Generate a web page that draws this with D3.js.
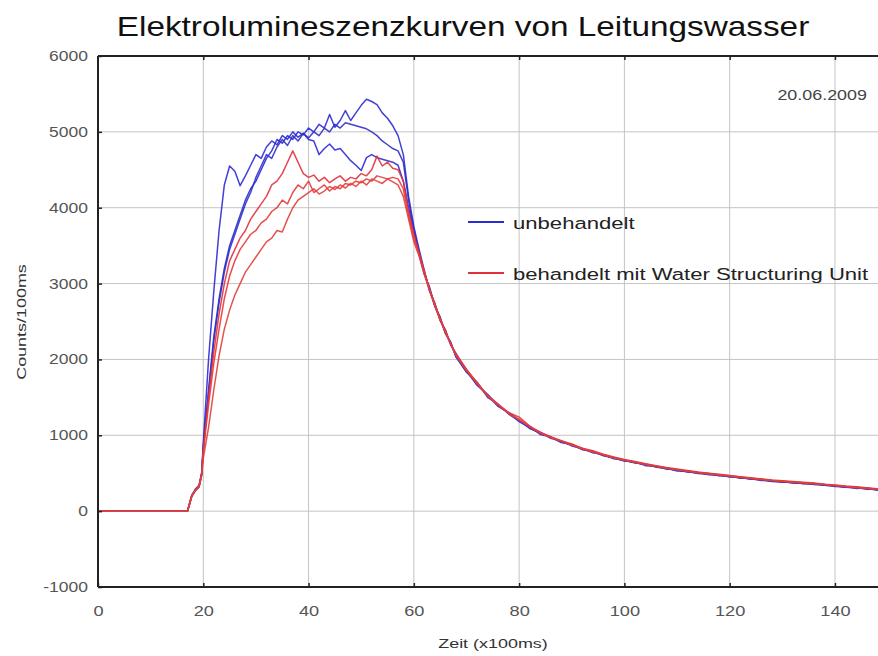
<!DOCTYPE html>
<html lang="de">
<head>
<meta charset="UTF-8">
<title>Elektrolumineszenzkurven</title>
<script src="https://cdn.jsdelivr.net/npm/d3@7"></script>
<style>
  body { margin: 0; background: #fff; }
  text { font-family: "Liberation Sans", Arial, sans-serif; }
</style>
</head>
<body>
<script>
// x values (Zeit in 100ms)
const zeit = [0, 17, 17.8, 18.5, 19.2, 19.7,
  20, 21, 22, 23, 24, 25, 26, 27, 28, 29, 30, 31, 32, 33, 34, 35, 36, 37, 38, 39,
  40, 41, 42, 43, 44, 45, 46, 47, 48, 49, 50, 51, 52, 53, 54, 55, 56, 57, 58, 59, 60,
  61, 62, 63, 64, 65, 66, 67, 68,
  70, 72, 74, 76, 78, 80, 82, 84, 86, 88, 90, 92, 94, 96, 98, 100, 102, 104, 106, 108,
  110, 112, 114, 116, 118, 120, 122, 124, 126, 128, 130, 132, 134, 136, 138, 140, 142, 144, 146, 148, 150];

// unbehandelt (blau)
const blau1 = [0, 0, 210, 280, 330, 500,
  900, 2000, 2900, 3700, 4300, 4550, 4480, 4290, 4420, 4560, 4700, 4650, 4800, 4880, 4830, 4950, 4900, 5000, 4930, 4980,
  4900, 4880, 4700, 4780, 4840, 4760, 4780, 4700, 4620, 4560, 4490, 4660, 4700, 4660, 4640, 4620, 4600, 4560, 4350, 4000, 3700,
  3420, 3140, 2930, 2700, 2540, 2350, 2220, 2040,
  1830, 1700, 1500, 1410, 1280, 1190, 1120, 1010, 980, 905, 880, 810, 790, 730, 705, 660, 650, 600, 595, 555,
  545, 515, 510, 480, 480, 450, 450, 420, 420, 390, 395, 370, 375, 350, 350, 325, 325, 300, 305, 280, 270];
const blau2 = [0, 0, 190, 270, 320, 480,
  850, 1600, 2300, 2800, 3200, 3500, 3700, 3900, 4100, 4250, 4350, 4500, 4650, 4750, 4900, 4850, 4950, 4900, 5000, 4960,
  5050, 5000, 5100, 5050, 5230, 5060, 5150, 5280, 5150, 5250, 5350, 5430, 5400, 5360, 5250, 5180, 5080, 4950, 4700, 4150, 3750,
  3450, 3170, 2900, 2740, 2510, 2390, 2190, 2080,
  1860, 1660, 1540, 1390, 1300, 1180, 1100, 1040, 960, 925, 860, 825, 770, 745, 690, 675, 635, 620, 580, 570,
  530, 530, 495, 495, 465, 465, 435, 435, 405, 405, 380, 385, 360, 365, 340, 330, 315, 315, 290, 290, 265];
const blau3 = [0, 0, 200, 290, 340, 510,
  820, 1550, 2250, 2750, 3150, 3450, 3650, 3850, 4050, 4200, 4400, 4550, 4700, 4650, 4800, 4900, 4820, 4950, 4880, 4980,
  4920, 5000, 4950, 5050, 5000, 5100, 5050, 5120, 5100, 5080, 5060, 5040, 5000, 4950, 4880, 4830, 4780, 4750, 4600, 4100, 3720,
  3380, 3120, 2950, 2700, 2560, 2340, 2230, 2030,
  1840, 1670, 1530, 1380, 1300, 1200, 1090, 1030, 975, 910, 875, 815, 785, 735, 700, 665, 640, 610, 585, 560,
  540, 520, 500, 485, 470, 455, 440, 425, 410, 395, 385, 375, 365, 355, 340, 335, 315, 305, 300, 280, 275];

// behandelt mit Water Structuring Unit (rot)
const rot1 = [0, 0, 200, 280, 330, 490,
  800, 1500, 2100, 2600, 3000, 3300, 3450, 3600, 3700, 3850, 3950, 4050, 4150, 4300, 4350, 4450, 4600, 4750, 4600, 4450,
  4400, 4430, 4350, 4400, 4330, 4380, 4420, 4350, 4400, 4380, 4450, 4420, 4500, 4680, 4550, 4600, 4520, 4500, 4350, 3950, 3650,
  3400, 3160, 2910, 2730, 2520, 2380, 2200, 2070,
  1870, 1690, 1530, 1410, 1300, 1240, 1120, 1040, 980, 930, 885, 830, 795, 750, 715, 680, 655, 625, 600, 575,
  555, 535, 515, 500, 485, 470, 455, 440, 425, 410, 400, 390, 380, 370, 355, 345, 330, 320, 310, 295, 285];
const rot2 = [0, 0, 200, 270, 320, 480,
  780, 1400, 1950, 2400, 2800, 3100, 3300, 3450, 3550, 3650, 3700, 3800, 3850, 3950, 4000, 4100, 4050, 4200, 4300, 4250,
  4350, 4200, 4250, 4300, 4220, 4280, 4250, 4320, 4300, 4350, 4330, 4380, 4350, 4420, 4400, 4380, 4400, 4380, 4250, 3900, 3600,
  3390, 3150, 2920, 2720, 2540, 2360, 2210, 2060,
  1860, 1700, 1520, 1400, 1290, 1210, 1110, 1035, 970, 925, 870, 825, 780, 745, 705, 675, 645, 620, 595, 570,
  545, 530, 510, 495, 480, 465, 450, 435, 420, 405, 395, 385, 375, 365, 350, 340, 325, 315, 305, 290, 280];
const rot3 = [0, 0, 190, 280, 330, 470,
  700, 1100, 1600, 2050, 2400, 2650, 2850, 3000, 3150, 3250, 3350, 3450, 3550, 3600, 3700, 3680, 3850, 4000, 4100, 4150,
  4200, 4250, 4180, 4220, 4280, 4240, 4300, 4260, 4320, 4280, 4350, 4300, 4380, 4350, 4320, 4380, 4340, 4300, 4150, 3850, 3550,
  3360, 3120, 2900, 2700, 2520, 2350, 2200, 2050,
  1850, 1680, 1520, 1400, 1290, 1200, 1115, 1030, 975, 920, 870, 820, 785, 740, 705, 670, 645, 615, 590, 565,
  545, 525, 505, 490, 475, 460, 445, 430, 415, 405, 390, 380, 370, 360, 350, 335, 325, 310, 300, 290, 280];

const xTicks = [0, 20, 40, 60, 80, 100, 120, 140];
const yTicks = [-1000, 0, 1000, 2000, 3000, 4000, 5000, 6000];

const width = 878, height = 656;
const plotLeft = 98, plotTop = 56, plotBottom = 587;

const svg = d3.select('body').append('svg')
  .attr('width', width).attr('height', height);

const x = d3.scaleLinear().domain([0, 150]).range([plotLeft, plotLeft + 150 * 5.264]);
const y = d3.scaleLinear().domain([-1000, 6000]).range([plotBottom, plotTop]);

// grid
svg.append('g').selectAll('line').data(xTicks.filter(d => d > 0)).join('line')
  .attr('x1', d => x(d)).attr('x2', d => x(d))
  .attr('y1', plotTop).attr('y2', plotBottom)
  .attr('stroke', '#c4c4c4').attr('stroke-width', 1);
svg.append('g').selectAll('line').data(yTicks.filter(d => d > -1000 && d < 6000)).join('line')
  .attr('x1', plotLeft).attr('x2', width)
  .attr('y1', d => y(d)).attr('y2', d => y(d))
  .attr('stroke', '#c4c4c4').attr('stroke-width', 1);

// curves
svg.append('clipPath').attr('id', 'plot')
  .append('rect').attr('x', plotLeft).attr('y', plotTop)
  .attr('width', width - plotLeft).attr('height', plotBottom - plotTop);

const line = d3.line().x((d, i) => x(zeit[i])).y(d => y(d));
const curves = [
  { v: blau1, c: '#2b2bd6' }, { v: blau2, c: '#2b2bd6' }, { v: blau3, c: '#3030c8' },
  { v: rot1, c: '#e2303a' }, { v: rot2, c: '#e8383a' }, { v: rot3, c: '#e0403a' }
];
svg.append('g').attr('clip-path', 'url(#plot)')
  .selectAll('path').data(curves).join('path')
  .attr('d', d => line(d.v))
  .attr('fill', 'none')
  .attr('stroke', d => d.c)
  .attr('stroke-width', 1.5)
  .attr('stroke-opacity', 0.9)
  .attr('stroke-linejoin', 'round');

// axes (the original picture is stretched sideways, so text gets a scaleX)
const gy = svg.append('g').attr('transform', `translate(${plotLeft},0)`)
  .call(d3.axisLeft(y).tickValues(yTicks).tickSize(-4).tickFormat(d => String(d)));
const gx = svg.append('g').attr('transform', `translate(0,${plotBottom})`)
  .call(d3.axisBottom(x).tickValues(xTicks).tickSize(-4).tickFormat(d => String(d)));
const gt = svg.append('g').attr('transform', `translate(0,${plotTop})`)
  .call(d3.axisTop(x).tickValues(xTicks.filter(d => d > 0)).tickSize(-4).tickFormat(''));
[gy, gx, gt].forEach(g => {
  g.select('.domain').attr('stroke', '#222').attr('stroke-width', 2);
  g.selectAll('.tick line').attr('stroke', '#222').attr('stroke-width', 1.5);
  g.selectAll('.tick text').attr('fill', '#555').style('font-size', '14px')
    .style('font-family', '"Liberation Sans", Arial, sans-serif');
});
gy.selectAll('.tick text').attr('x', 0).attr('transform', 'translate(-10,0) scale(1.25,1)');
gx.selectAll('.tick text').attr('y', 0).attr('transform', 'translate(0,19) scale(1.3,1)');
gy.select('.domain').attr('d', `M0,${plotTop}V${plotBottom}`);
gx.select('.domain').attr('d', `M${plotLeft},0H${width}`);
gt.select('.domain').attr('d', `M${plotLeft},0H${width}`);

// title and labels
svg.append('text').attr('transform', 'translate(463,36) scale(1.19,1)').attr('text-anchor', 'middle')
  .style('font-size', '28px').attr('fill', '#111')
  .text('Elektrolumineszenzkurven von Leitungswasser');
svg.append('text').attr('transform', 'translate(26,322) rotate(-90) scale(1.38,1)').attr('text-anchor', 'middle')
  .style('font-size', '13px').attr('fill', '#333').text('Counts/100ms');
svg.append('text').attr('transform', 'translate(493,648) scale(1.38,1)').attr('text-anchor', 'middle')
  .style('font-size', '13px').attr('fill', '#333').text('Zeit (x100ms)');
svg.append('text').attr('transform', 'translate(867,100) scale(1.28,1)').attr('text-anchor', 'end')
  .style('font-size', '14px').attr('fill', '#444').text('20.06.2009');

// legend
const legend = [
  { label: 'unbehandelt', c: '#2b2bd6', yy: 222 },
  { label: 'behandelt mit Water Structuring Unit', c: '#e2303a', yy: 273 }
];
const lg = svg.append('g');
lg.selectAll('line').data(legend).join('line')
  .attr('x1', 468).attr('x2', 504).attr('y1', d => d.yy).attr('y2', d => d.yy)
  .attr('stroke', d => d.c).attr('stroke-width', 2);
lg.selectAll('text').data(legend).join('text')
  .attr('transform', d => `translate(513,${d.yy + 7}) scale(1.3,1)`)
  .style('font-size', '17px').attr('fill', '#222')
  .text(d => d.label);
</script>
</body>
</html>
